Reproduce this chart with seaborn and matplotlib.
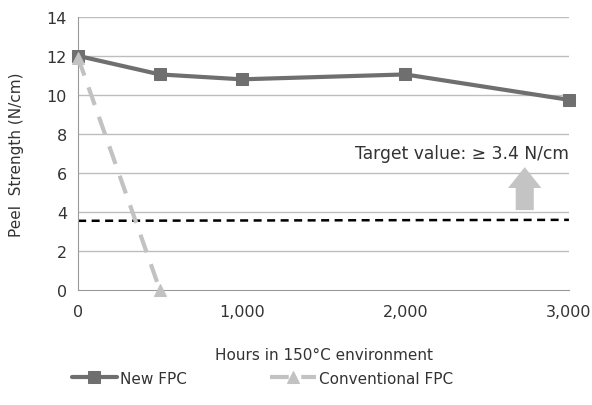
import numpy as np
import pandas as pd
import matplotlib
matplotlib.use("Agg")
import matplotlib.pyplot as plt
import seaborn as sns

hours_new = [0, 500, 1000, 2000, 3000]
peel_new = [12.0, 11.05, 10.8, 11.05, 9.75]
hours_conv = [0, 500]
peel_conv = [11.9, 0.0]
target_x = [0, 3000]
target_y = [3.55, 3.6]

sns.set_style("white")
plt.rcParams['font.family'] = ['DejaVu Sans']
txt = '#333333'

fig = plt.figure(figsize=(5.92, 4.06), dpi=100)
ax = fig.add_axes([0.132, 0.283, 0.829, 0.673])

for yv in range(2, 15, 2):
    ax.axhline(yv, color='#bdbdbd', lw=1.0, zorder=0)

sns.lineplot(x=target_x, y=target_y, ax=ax, color='black', lw=1.8,
             linestyle=(0, (3.2, 2.2)), zorder=2)
sns.lineplot(x=hours_new, y=peel_new, ax=ax, color='#6f6f6f', lw=3,
             marker='s', markersize=9, markeredgecolor='#6f6f6f',
             label='New FPC', zorder=3, clip_on=False)
sns.lineplot(x=hours_conv, y=peel_conv, ax=ax, color='#c2c2c2', lw=3,
             linestyle=(0, (4.5, 3)), marker='^', markersize=9,
             markeredgecolor='#c2c2c2', label='Conventional FPC', zorder=4,
             clip_on=False)

ax.annotate('', xy=(2730, 6.3), xytext=(2730, 4.1),
            arrowprops=dict(arrowstyle='simple,head_width=1.2,head_length=0.75,tail_width=0.65',
                            mutation_scale=20, color='#c4c4c4', lw=0,
                            shrinkA=0, shrinkB=0))
ax.text(3000, 7.0, 'Target value: \u2265 3.4 N/cm', ha='right', va='center',
        fontsize=12.3, color=txt)

ax.set_xlim(0, 3000)
ax.set_ylim(0, 14)
ax.set_xticks([0, 1000, 2000, 3000])
ax.set_xticklabels(['0', '1,000', '2,000', '3,000'])
ax.set_yticks(range(0, 15, 2))
ax.tick_params(axis='x', length=4, color='#9a9a9a', labelsize=11.5, labelcolor=txt, pad=6)
ax.tick_params(axis='y', length=0, labelsize=11.5, labelcolor=txt, pad=8)
for s in ['top', 'right']:
    ax.spines[s].set_visible(False)
ax.spines['left'].set_color('#9a9a9a')
ax.spines['bottom'].set_color('#9a9a9a')
ax.set_xlabel('Hours in 150\u00b0C environment', fontsize=11, color=txt, labelpad=20)
ax.set_ylabel('Peel  Strength (N/cm)', fontsize=11, color=txt, labelpad=16)

ax.legend(loc='upper center', bbox_to_anchor=(0.375, -0.245), ncol=2, frameon=False,
          fontsize=11, labelcolor=txt, columnspacing=5.4, handlelength=3.0, handletextpad=0.2)

fig.savefig('out.png', dpi=100)
